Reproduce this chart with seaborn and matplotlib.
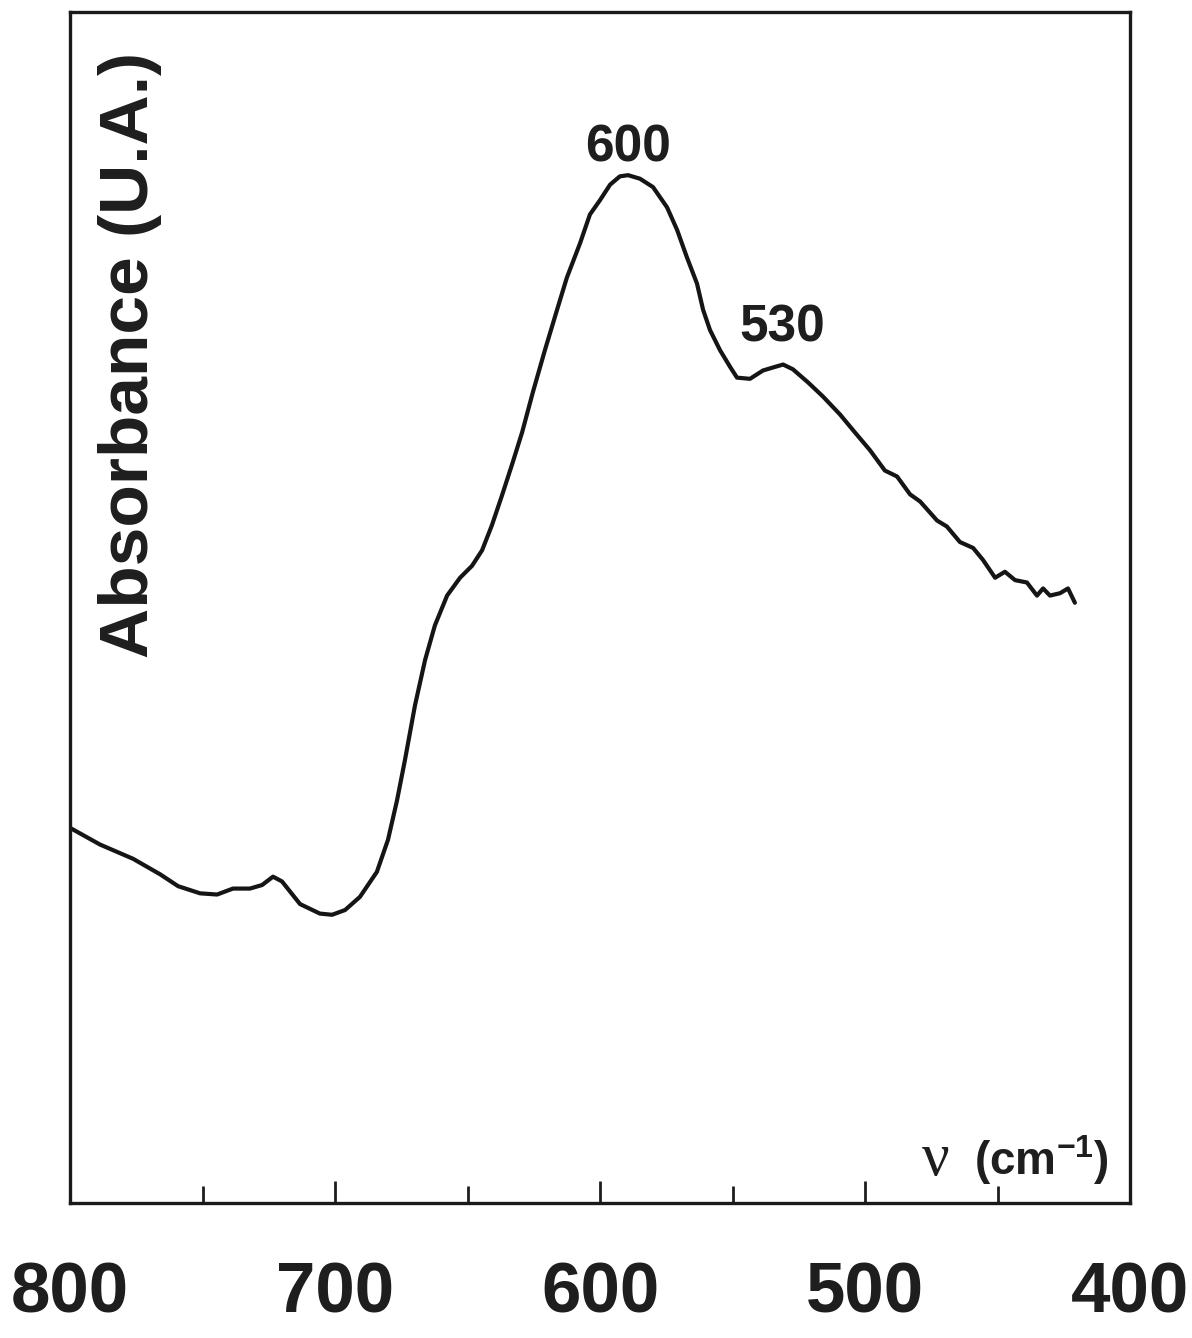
import matplotlib
matplotlib.use("Agg")
import matplotlib.pyplot as plt
import seaborn as sns
import pandas as pd
from matplotlib.ticker import MultipleLocator

# ---- data ----
wavenumber = [800.0, 788.7, 776.2, 766.0, 759.2, 750.9, 744.5, 738.5, 732.1, 727.5,
              723.4, 720.0, 713.2, 705.7, 701.1, 696.2, 690.6, 684.2, 680.0, 676.6,
              673.6, 669.8, 666.0, 662.3, 657.7, 652.8, 648.3, 644.5, 640.8, 637.0,
              633.2, 629.4, 625.3, 620.8, 616.2, 612.5, 607.5, 603.8, 600.0, 596.2,
              592.5, 589.4, 584.9, 580.0, 574.7, 570.9, 567.2, 563.4, 561.1, 558.5,
              554.7, 550.9, 548.3, 543.4, 538.5, 534.0, 530.9, 527.2, 521.5, 515.8,
              509.4, 503.8, 498.1, 492.5, 487.9, 483.0, 479.2, 472.8, 469.1, 464.2,
              459.2, 455.5, 450.9, 447.2, 443.4, 438.9, 435.1, 432.8, 430.2, 426.4,
              423.4, 420.8]
absorbance = [0.315, 0.301, 0.289, 0.276, 0.266, 0.260, 0.259, 0.264, 0.264, 0.267,
              0.274, 0.270, 0.251, 0.243, 0.242, 0.246, 0.257, 0.278, 0.305, 0.338,
              0.372, 0.418, 0.456, 0.485, 0.510, 0.525, 0.535, 0.548, 0.569, 0.594,
              0.620, 0.647, 0.681, 0.716, 0.750, 0.777, 0.806, 0.830, 0.842, 0.855,
              0.862, 0.863, 0.860, 0.853, 0.836, 0.817, 0.794, 0.772, 0.750, 0.733,
              0.716, 0.702, 0.693, 0.692, 0.699, 0.702, 0.704, 0.700, 0.689, 0.677,
              0.662, 0.647, 0.632, 0.615, 0.610, 0.595, 0.589, 0.573, 0.568, 0.555,
              0.550, 0.540, 0.525, 0.530, 0.523, 0.521, 0.510, 0.516, 0.510, 0.512,
              0.516, 0.504]
peak_labels = ["600", "530"]
peak_pos = [589.4, 531.3]
peak_text_y = [0.886, 0.735]
major_ticks = [800, 700, 600, 500, 400]
tick_labels = ["800", "700", "600", "500", "400"]

df = pd.DataFrame({"nu": wavenumber, "A": absorbance})

sns.set_theme(style="white")
plt.rcParams["font.family"] = ["Liberation Sans", "DejaVu Sans"]
plt.rcParams["mathtext.fontset"] = "custom"
plt.rcParams["mathtext.rm"] = "Liberation Sans"
plt.rcParams["mathtext.bf"] = "Liberation Sans:bold"

fig = plt.figure(figsize=(11.92, 13.38), dpi=100)
ax = fig.add_axes([70 / 1192, 1 - 1203 / 1338, 1060 / 1192, 1191 / 1338])

sns.lineplot(data=df, x="nu", y="A", sort=False, color="#151515", linewidth=3.0, ax=ax)

ax.set_xlim(800, 400)
ax.set_ylim(0, 1.0)
ax.set_xlabel("")
ax.set_ylabel("")
ax.set_yticks([])

ax.set_xticks(major_ticks)
ax.set_xticklabels(tick_labels, fontsize=51, fontweight="bold", color="#1e1e1e")
ax.xaxis.set_minor_locator(MultipleLocator(50))
ax.tick_params(axis="x", which="major", direction="in", length=16, width=2,
               pad=42, color="#1e1e1e", bottom=True)
ax.tick_params(axis="x", which="minor", direction="in", length=12, width=2,
               color="#1e1e1e", bottom=True)

for s in ax.spines.values():
    s.set_linewidth(2.4)
    s.set_color("#1a1a1a")

for lab, xp, yp in zip(peak_labels, peak_pos, peak_text_y):
    ax.text(xp, yp, lab, fontsize=37, fontweight="bold", ha="center", va="center",
            color="#1e1e1e")

ax.text(0.0566, 0.712, "Absorbance (U.A.)", transform=ax.transAxes, rotation=90,
        ha="center", va="center", fontsize=50, fontweight="bold", color="#1e1e1e")

ax.text(0.8165, 0.036, "ν", transform=ax.transAxes, ha="center", va="center",
        fontsize=44, family="Liberation Serif", color="#1e1e1e")
ax.text(0.853, 0.036, r"(cm$^{\mathbf{-1}}$)", transform=ax.transAxes, ha="left",
        va="center", fontsize=33, fontweight="bold", color="#1e1e1e")

fig.savefig("out.png", dpi=100, facecolor="white")
